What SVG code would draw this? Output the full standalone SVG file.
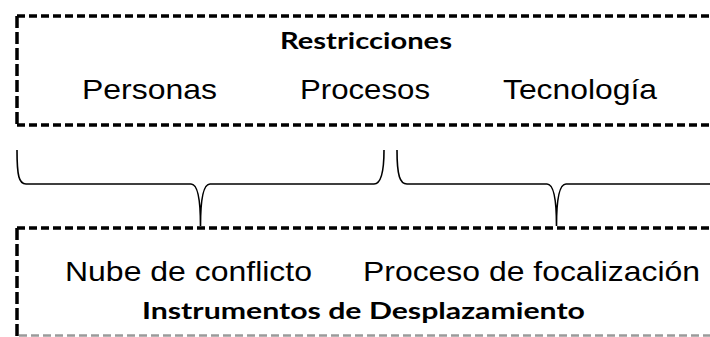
<svg xmlns="http://www.w3.org/2000/svg" width="710" height="337" viewBox="0 0 710 337">
<style>
.h{stroke:#000;stroke-width:3.5;stroke-dasharray:8 4;fill:none}
.v{stroke:#000;stroke-width:3.5;stroke-dasharray:12 4;fill:none}
.g{stroke:#9a9a9a;stroke-width:2.5;stroke-dasharray:8 4;fill:none}
.br{stroke:#000;stroke-width:1.6;fill:none}
.t{font-family:"Liberation Sans",Arial,sans-serif;font-size:28.5px;fill:#000}
.b{font-family:Lato,"Open Sans",sans-serif;font-weight:bold;font-size:23px;fill:#000}
</style>
<rect width="710" height="337" fill="#fff"/>
<g id="restricciones">
<line class="h" x1="17" y1="16" x2="712" y2="16"/>
<line class="v" x1="17" y1="16" x2="17" y2="125"/>
<line class="h" x1="17" y1="125" x2="712" y2="125"/>
<text class="b" x="280" y="49" textLength="172" lengthAdjust="spacingAndGlyphs">Restricciones</text>
<text class="t" x="82" y="99" textLength="135" lengthAdjust="spacingAndGlyphs">Personas</text>
<text class="t" x="300" y="99" textLength="130" lengthAdjust="spacingAndGlyphs">Procesos</text>
<text class="t" x="503" y="99" textLength="154" lengthAdjust="spacingAndGlyphs">Tecnología</text>
</g>
<g id="instrumentos">
<line class="h" x1="17" y1="228" x2="712" y2="228"/>
<line class="v" x1="17" y1="228" x2="17" y2="336"/>
<line class="g" x1="19" y1="335.5" x2="712" y2="335.5"/>
<text class="t" x="65" y="281" textLength="247" lengthAdjust="spacingAndGlyphs">Nube de conflicto</text>
<text class="t" x="363" y="281" textLength="337" lengthAdjust="spacingAndGlyphs">Proceso de focalización</text>
<text class="b" x="142" y="319" textLength="443" lengthAdjust="spacingAndGlyphs">Instrumentos de Desplazamiento</text>
</g>
<g id="connectors">
<path class="br" d="M17 150 C17 176 19 184 26 184 H191 C197 184 200.5 195 200.5 226 C200.5 195 204 184 210 184 H374 C380 184 384 176 384 150"/>
<path class="br" d="M397 150 C397 176 400 184 407 184 H547 C553 184 556.5 195 556.5 226 C556.5 195 560 184 566 184 H712"/>
</g>
</svg>
